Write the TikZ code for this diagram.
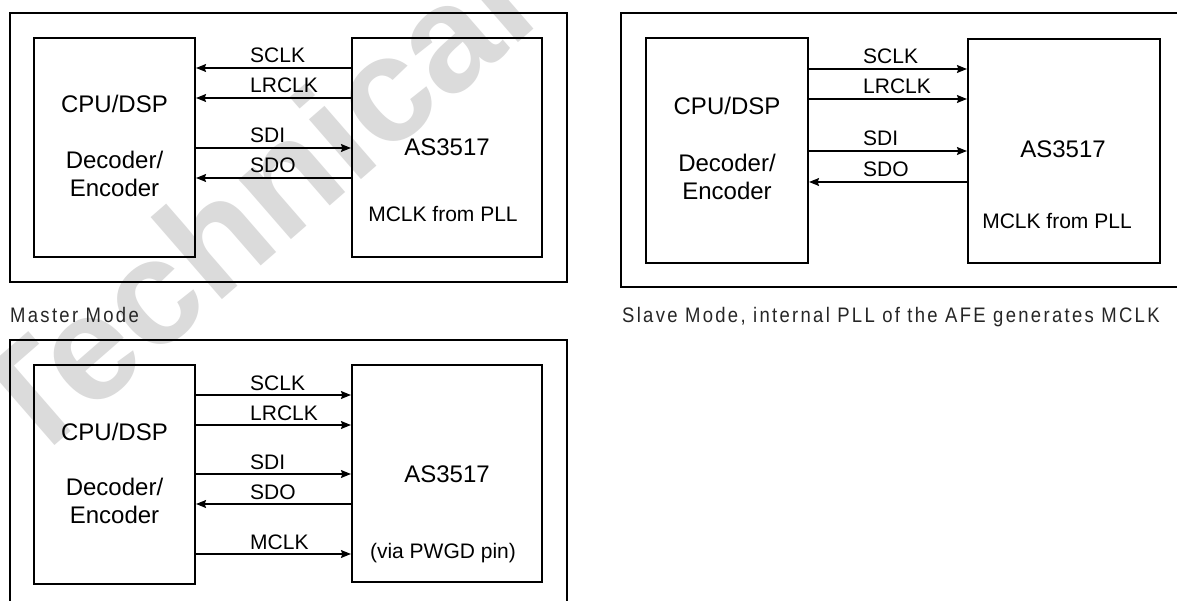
\documentclass[tikz,border=0pt]{standalone}
\usepackage{fontspec}
\setmainfont{Liberation Sans}
\newfontfamily\capfont[FakeStretch=0.88,LetterSpace=11]{Liberation Sans}
\usetikzlibrary{arrows.meta}

\begin{document}
\begin{tikzpicture}[x=1pt,y=-1pt,
    panel/.style={draw,line width=1.3pt},
    blk/.style={draw,line width=2.2pt,inner sep=0pt},
    tr/.style={line width=1.1pt,-{Stealth[length=10pt,width=8pt,inset=1.5pt]}},
    tl/.style={line width=1.1pt,{Stealth[length=10pt,width=8pt,inset=1.5pt]}-},
    lbl/.style={anchor=base west,inner sep=0pt,font=\fontsize{21}{25}\selectfont},
    big/.style={anchor=base,inner sep=0pt,align=center,font=\fontsize{24}{28}\selectfont},
    note/.style={anchor=base,inner sep=0pt,font=\fontsize{21}{25}\selectfont},
    capt/.style={anchor=base west,inner sep=0pt,text=black!85,font=\capfont\fontsize{21}{25}\selectfont}]
  \clip (0,0) rectangle (1177,601);
  \fill[white] (0,0) rectangle (1177,601);
  \node[anchor=base west,rotate=41,inner sep=0pt,text=black!14,font=\bfseries\fontsize{150}{170}\selectfont] (wm) at (28,469) {Technical};

  \draw[panel] (10,13) rectangle (567,282);
  \node[blk,minimum width=161pt,minimum height=219pt] (cpuA) at (114.5,147.5) {};
  \node[blk,minimum width=190pt,minimum height=219pt] (asA) at (447,147.5) {};
  \node[big] (cpuAt) at (114.5,113) {CPU/DSP};
  \node[big] (decAt) at (114.5,197) {Decoder/\\Encoder};
  \node[big] (asAt) at (447,156) {AS3517};
  \node[note] (pllA) at (443,222) {MCLK from PLL};
  \foreach \y/\s/\t in {68/tl/SCLK,98/tl/LRCLK,148/tr/SDI,178/tl/SDO} {
    \draw[\s] (cpuA.east |- 0,\y) -- (asA.west |- 0,\y);
    \node[lbl] (A\t) at (250,\y-5) {\t};
  }

  \draw[panel] (621,13) rectangle (1190,287);
  \node[blk,minimum width=162pt,minimum height=225pt] (cpuB) at (727,150.5) {};
  \node[blk,minimum width=192pt,minimum height=224pt] (asB) at (1064,151) {};
  \node[big] (cpuBt) at (727,115) {CPU/DSP};
  \node[big] (decBt) at (727,200) {Decoder/\\Encoder};
  \node[big] (asBt) at (1063,158) {AS3517};
  \node[note] (pllB) at (1057,229) {MCLK from PLL};
  \foreach \y/\s/\t in {69/tr/SCLK,99/tr/LRCLK,151/tr/SDI,182/tl/SDO} {
    \draw[\s] (cpuB.east |- 0,\y) -- (asB.west |- 0,\y);
    \node[lbl] (B\t) at (863,\y-5.5) {\t};
  }

  \draw[panel] (10,340) rectangle (567,620);
  \node[blk,minimum width=161pt,minimum height=219pt] (cpuC) at (114.5,474.5) {};
  \node[blk,minimum width=190pt,minimum height=217pt] (asC) at (447,473.5) {};
  \node[big] (cpuCt) at (114.5,440) {CPU/DSP};
  \node[big] (decCt) at (114.5,523) {Decoder/\\Encoder};
  \node[big] (asCt) at (447,482) {AS3517};
  \node[note] (pwgd) at (443,558) {(via PWGD pin)};
  \foreach \y/\s/\t in {395/tr/SCLK,425/tr/LRCLK,474/tr/SDI,504/tl/SDO,554/tr/MCLK} {
    \draw[\s] (cpuC.east |- 0,\y) -- (asC.west |- 0,\y);
    \node[lbl] (C\t) at (250,\y-5) {\t};
  }

  \node[capt] (mcap) at (10,323) {Master Mode};
  \node[capt] (scap) at (622,323) {Slave Mode, internal PLL of the AFE generates MCLK};
\end{tikzpicture}
\end{document}
